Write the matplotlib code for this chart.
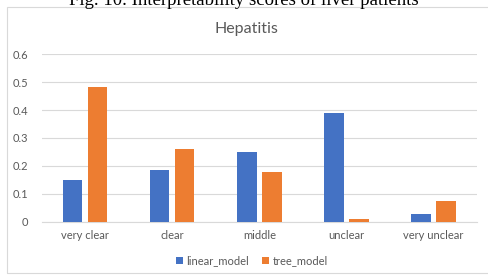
import numpy as np
import matplotlib.pyplot as plt
from matplotlib.patches import Rectangle

# data
categories   = ['very clear', 'clear', 'middle', 'unclear', 'very unclear']
linear_model = [0.15, 0.185, 0.25, 0.39, 0.028]
tree_model   = [0.482, 0.259, 0.177, 0.01, 0.075]

blue   = '#4472C4'
orange = '#ED7D31'
grey   = '#595959'

plt.rcParams['font.family'] = ['Lato', 'DejaVu Sans']

W, H = 488, 275
fig = plt.figure(figsize=(W / 100, H / 100), dpi=100)

# caption of the figure, cut off at the top as in the source
fig.text(0.5, 1 - 5 / H, 'Fig. 10. Interpretability scores of liver patients',
         ha='center', va='baseline', fontsize=13.5, family='Liberation Serif',
         color='black')

# chart frame
fig.patches.append(Rectangle((7 / W, 1 - 273 / H), 1, (273 - 7) / H,
                             transform=fig.transFigure, fill=False,
                             edgecolor='#D9D9D9', linewidth=0.8))

ax = fig.add_axes([41.7 / W, 1 - 221.7 / H, (477 - 41.7) / W, (221.7 - 54.3) / H])

x = np.arange(len(categories))
bw = 0.222
off = (bw + 0.065) / 2
ax.bar(x - off, linear_model, bw, color=blue, label='linear_model', zorder=3)
ax.bar(x + off, tree_model, bw, color=orange, label='tree_model', zorder=3)

ax.set_xlim(-0.5, len(categories) - 0.5)
ax.set_ylim(0, 0.6)
ax.set_yticks(np.arange(0, 0.61, 0.1))
ax.set_yticklabels(['0', '0.1', '0.2', '0.3', '0.4', '0.5', '0.6'])
ax.set_xticks(x)
ax.set_xticklabels(categories)
ax.tick_params(axis='both', length=0, labelsize=8, colors=grey)
ax.tick_params(axis='y', pad=10)
ax.tick_params(axis='x', pad=6)
ax.grid(axis='y', color='#D9D9D9', linewidth=0.8, zorder=0)
for s in ['top', 'right', 'left']:
    ax.spines[s].set_visible(False)
ax.spines['bottom'].set_color('#D9D9D9')
ax.spines['bottom'].set_linewidth(0.8)

fig.text(0.506, 1 - 29 / H, 'Hepatitis', ha='center', va='center',
         fontsize=11.5, color=grey)

ax.legend(loc='center', bbox_to_anchor=(252 / W, 1 - 261 / H),
          bbox_transform=fig.transFigure, ncol=2, frameon=False,
          fontsize=8, labelcolor=grey, handlelength=0.6, handleheight=0.6,
          handletextpad=0.3, columnspacing=1.2)

fig.savefig('out.png', dpi=100)
